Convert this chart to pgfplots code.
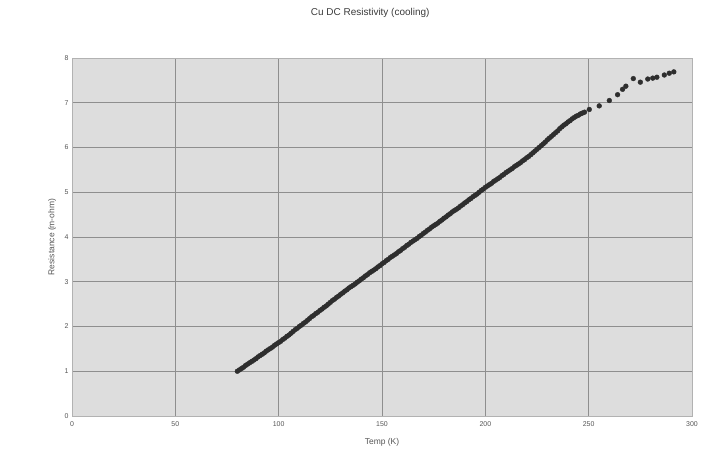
\documentclass[border=0pt]{standalone}
\usepackage{pgfplots}
\pgfplotsset{compat=1.18}
\usepackage{fontspec}
\setmainfont{Liberation Sans}
\definecolor{plotbg}{HTML}{DDDDDD}
\definecolor{gridc}{HTML}{8E8E8E}
\definecolor{markc}{HTML}{2E2E2E}
\definecolor{txt}{HTML}{555555}
\begin{document}
\begin{tikzpicture}
\path[use as bounding box] (0,0) rectangle (710bp,462bp);
\begin{axis}[
  at={(72bp,46bp)}, anchor=south west,
  scale only axis, width=620bp, height=358bp,
  xmin=0, xmax=300, ymin=0, ymax=8,
  xtick={0,50,...,300}, ytick={0,1,...,8},
  grid=major,
  major grid style={gridc, line width=0.6pt},
  axis background/.style={fill=plotbg},
  axis line style={draw=gray!60},
  tick style={draw=none},
  /pgf/number format/assume math mode=true,
  ticklabel style={font=\fontsize{7}{8}\selectfont, text=txt},
  xticklabel style={yshift=-2bp},
  title={Cu DC Resistivity (cooling)},
  title style={at={(axis description cs:0.481,1)}, anchor=center, yshift=39bp, font=\fontsize{10}{11}\selectfont, text=txt!70!black},
  xlabel={Temp (K)},
  xlabel style={at={(axis description cs:0.5,0)}, anchor=center, yshift=-26bp, font=\fontsize{8.5}{9}\selectfont, text=txt},
  ylabel={Resistance (m-ohm)},
  ylabel style={at={(axis description cs:-0.032,0.5)}, anchor=center, font=\fontsize{8.5}{9}\selectfont, text=txt},
]
\addplot[only marks, mark=*, mark size=2.4bp, mark options={fill=markc, draw=markc}] table {
x y
80 1.00
82 1.06
84 1.13
86 1.19
88 1.25
90 1.32
92 1.38
94 1.45
96 1.51
98 1.58
100 1.64
102 1.71
104 1.78
106 1.85
108 1.93
110 2.00
112 2.07
114 2.14
116 2.22
118 2.29
120 2.36
122 2.43
124 2.50
126 2.58
128 2.65
130 2.72
132 2.79
134 2.86
136 2.92
138 2.99
140 3.06
142 3.13
144 3.20
146 3.26
148 3.33
150 3.40
152 3.47
154 3.54
156 3.60
158 3.67
160 3.74
162 3.81
164 3.88
166 3.94
168 4.01
170 4.08
172 4.15
174 4.22
176 4.28
178 4.35
180 4.42
182 4.49
184 4.56
186 4.62
188 4.69
190 4.76
192 4.83
194 4.90
196 4.96
198 5.04
200 5.11
202 5.17
204 5.24
206 5.30
208 5.37
210 5.44
212 5.50
214 5.57
216 5.63
218 5.70
220 5.77
222 5.84
224 5.92
226 6.00
228 6.08
230 6.17
232 6.25
234 6.33
236 6.42
238 6.50
240 6.57
242 6.64
244 6.70
246 6.75
248 6.79
250.3 6.85
255.1 6.93
260 7.05
264 7.18
266.4 7.30
268 7.37
271.6 7.54
275 7.46
278.6 7.53
281 7.55
283 7.57
286.6 7.62
289 7.66
291.2 7.69
81 1.03
83 1.09
85 1.16
87 1.22
89 1.28
91 1.35
93 1.41
95 1.48
97 1.54
99 1.61
101 1.67
103 1.74
105 1.81
107 1.89
109 1.96
111 2.03
113 2.10
115 2.18
117 2.25
119 2.32
121 2.39
123 2.46
125 2.54
127 2.61
129 2.68
131 2.75
133 2.82
135 2.89
137 2.95
139 3.02
141 3.09
143 3.16
145 3.23
147 3.29
149 3.36
151 3.43
153 3.50
155 3.57
157 3.63
159 3.70
161 3.77
163 3.84
165 3.91
167 3.97
169 4.04
171 4.11
173 4.18
175 4.25
177 4.31
179 4.38
181 4.45
183 4.52
185 4.59
187 4.65
189 4.72
191 4.79
193 4.86
195 4.93
197 5.00
199 5.07
201 5.14
203 5.20
205 5.27
207 5.33
209 5.40
211 5.47
213 5.53
215 5.60
217 5.66
219 5.73
221 5.80
223 5.88
225 5.96
227 6.04
229 6.12
231 6.21
233 6.29
235 6.37
237 6.46
239 6.53
241 6.60
243 6.67
245 6.72
247 6.77
};
\end{axis}
\end{tikzpicture}
\end{document}
